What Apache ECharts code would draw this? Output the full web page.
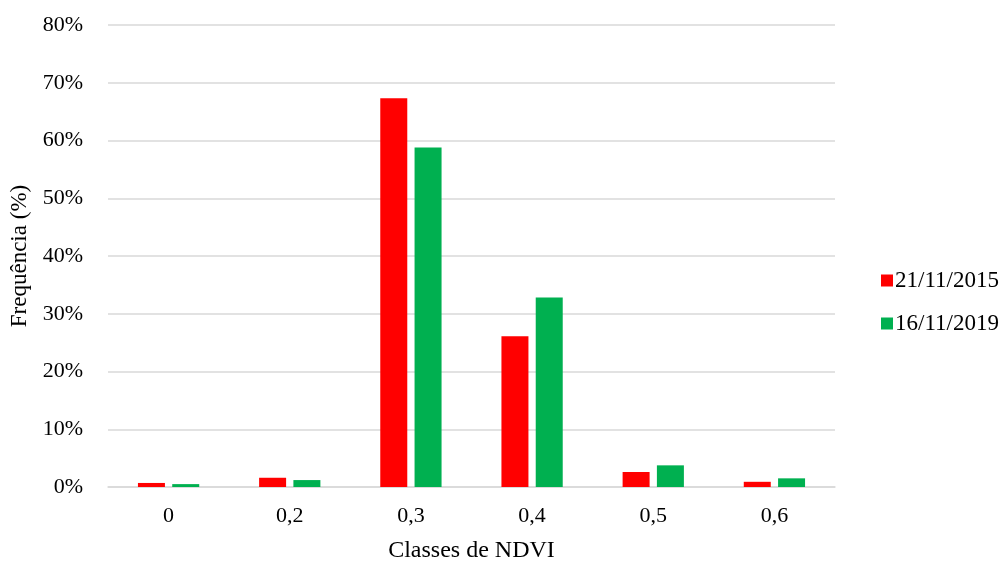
<!DOCTYPE html>
<html>
<head>
<meta charset="utf-8">
<script src="https://cdn.jsdelivr.net/npm/echarts@6/dist/echarts.min.js"></script>
<style>
html,body{margin:0;padding:0;background:#fff;}
#chart{width:1003px;height:562px;}
</style>
</head>
<body>
<div id="chart"></div>
<script>
// NDVI classes and frequency (%) for each date
const categories = ['0', '0,2', '0,3', '0,4', '0,5', '0,6'];
const serie2015 = [0.7, 1.6, 67.3, 26.1, 2.6, 0.9];
const serie2019 = [0.5, 1.2, 58.8, 32.8, 3.75, 1.5];
const yTicks = [0, 10, 20, 30, 40, 50, 60, 70, 80];

const font = '"Liberation Serif", "Times New Roman", serif';
const chart = echarts.init(document.getElementById('chart'));
chart.setOption({
  animation: false,
  textStyle: { fontFamily: font },
  grid: { left: 108, right: 168, top: 25, bottom: 75, containLabel: false, outerBoundsMode: 'none' },
  legend: {
    orient: 'vertical',
    left: 876,
    top: 264,
    itemWidth: 12,
    itemHeight: 12,
    itemGap: 20,
    icon: 'rect',
    textStyle: { fontFamily: font, fontSize: 23, color: '#000', padding: [0, 0, 0, -3] },
    data: ['21/11/2015', '16/11/2019']
  },
  xAxis: {
    type: 'category',
    data: categories,
    name: 'Classes de NDVI',
    nameLocation: 'middle',
    nameGap: 52,
    nameTextStyle: { fontFamily: font, fontSize: 24, color: '#000' },
    axisLine: { lineStyle: { color: '#d9d9d9', width: 1.5 } },
    axisTick: { show: false },
    axisLabel: { fontFamily: font, fontSize: 22, color: '#000', margin: 18 }
  },
  yAxis: {
    type: 'value',
    min: yTicks[0],
    max: yTicks[yTicks.length - 1],
    interval: 10,
    name: 'Frequência (%)',
    nameLocation: 'middle',
    nameGap: 71,
    nameRotate: 90,
    nameTextStyle: { fontFamily: font, fontSize: 23, color: '#000' },
    axisLine: { show: false },
    axisTick: { show: false },
    splitLine: { lineStyle: { color: '#d9d9d9', width: 1.5 } },
    axisLabel: { fontFamily: font, fontSize: 22, color: '#000', margin: 25, formatter: '{value}%' }
  },
  series: [
    {
      name: '21/11/2015',
      type: 'bar',
      data: serie2015,
      barWidth: 27,
      barGap: '27%',
      itemStyle: { color: '#ff0000' }
    },
    {
      name: '16/11/2019',
      type: 'bar',
      data: serie2019,
      barWidth: 27,
      barGap: '27%',
      itemStyle: { color: '#00b050' }
    }
  ]
});
</script>
</body>
</html>
